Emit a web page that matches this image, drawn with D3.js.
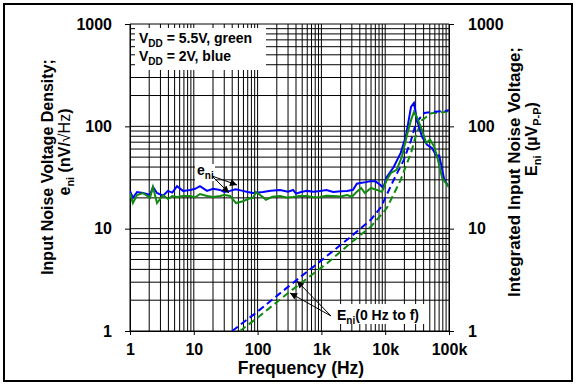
<!DOCTYPE html>
<html><head><meta charset="utf-8">
<script src="https://cdn.jsdelivr.net/npm/d3@7"></script>
<style>body{margin:0;background:#fff}svg{display:block}text{font-family:Arial,"Liberation Sans",sans-serif;font-weight:bold;fill:#000}</style>
</head><body>
<svg id="c" width="576" height="384"></svg>
<script>
// ---- data ----
const xTicks = [1, 10, 100, 1000, 10000, 100000];
const xTickLabels = ["1", "10", "100", "1k", "10k", "100k"];
const yTicks = [1, 10, 100, 1000];
const yTickLabels = ["1", "10", "100", "1000"];

const freqBlue = [1,1.11,1.29,1.6,2.06,2.29,2.65,3.29,3.94,4.6,5.46,6.77,8.73,10.5,12.5,16.1,20,25.8,30,37,45,59,70,85,121,160,225,300,360,400,480,595,750,955,1200,1530,2000,2530,3130,3600,4040,5000,5800,7000,8250,9300,10600,13600,17500,21000,25400,28200,31500,37800,45400,54500,63000,70300,84500,100000];
const eniBlue  = [23.4,20,22.8,22.3,21.3,25.6,22.3,21.0,23.4,22.5,26.0,23.4,23.9,24.5,26.0,23.4,24.5,23.9,22.8,23.4,24.2,23.4,22.8,22.3,22.8,23.5,23.9,23.0,23.9,22.0,22.8,23.4,23.0,23.4,23.8,22.8,23.2,23.4,24.0,27.5,28,28.5,29,29,27,25,32,40,55,79,155,169,115,79,66,61,52,52,30,25.5];

const freqGreen = [1,1.11,1.29,1.6,2.06,2.29,2.65,3.29,3.94,4.6,5.46,6.77,8.73,10.5,12.5,16.1,20,25.8,30,37,45.9,59,70,85,94,121,135,170,225,280,360,450,595,750,955,1200,1530,2000,2530,3000,3600,4200,4800,6000,7400,8900,10600,12300,15100,18200,21900,25400,28200,31500,37800,43700,50700,58700,65400,78500,100000];
const eniGreen  = [22.3,17.8,21.3,22.3,20,25.6,17.8,21.3,19.5,20.8,20.4,20.9,20.9,20.2,21.8,20.9,20.4,20.9,21.3,20.9,17.8,18.5,19.5,20,22.8,20.4,19.1,20.5,20.9,20.2,20.4,20.8,20.9,20.3,20.4,21.0,20.9,20.6,21.3,20.5,23,25,22.3,25,23.9,22.8,30,35,37.6,50,82,115,138,122,92,69,74,63,50,31,25.5];

const freqEBlue = [40,100,300,1000,3000,6000,8600,13600,19600,25400,30400,40700,60000,84500,100000];
const EniBlue   = [1.0,1.55,2.7,4.9,8.5,12.3,16.3,30,47,73,108,135,139,141,144];
const freqEGreen = [53,100,300,1230,3000,6000,10600,17500,25400,30400,37800,52600,84500,100000];
const EniGreen   = [1.0,1.35,2.35,4.6,7.4,10.5,15.9,30,55,82,115,134,138,141];

const blue = "#0000ff", green = "#108a10";

// ---- layout ----
const svg = d3.select("#c");
const L = 130, R = 449, T = 24, B = 331;
const x = d3.scaleLog().domain([1, 1e5]).range([L, R]);
const y = d3.scaleLog().domain([1, 1000]).range([B, T]);

// outer border
svg.append("rect").attr("x", 4).attr("y", 4).attr("width", 568).attr("height", 377)
  .attr("fill", "none").attr("stroke", "#000").attr("stroke-width", 2);

// grid
const gx = [], gy = [];
for (let d = 1; d < 1e5; d *= 10) for (let k = 1; k < 10; k++) gx.push(d * k);
gx.push(1e5);
for (let d = 1; d < 1000; d *= 10) for (let k = 1; k < 10; k++) gy.push(d * k);
gy.push(1000);
const grid = svg.append("g").attr("stroke", "#000").attr("stroke-width", 1);
grid.selectAll(".vx").data(gx).enter().append("line")
  .attr("x1", d => x(d)).attr("x2", d => x(d)).attr("y1", T).attr("y2", B);
grid.selectAll(".hy").data(gy).enter().append("line")
  .attr("y1", d => y(d)).attr("y2", d => y(d)).attr("x1", L).attr("x2", R);

// axes
const fmtX = d => xTickLabels[xTicks.indexOf(d)];
const fmtY = d => yTickLabels[yTicks.indexOf(d)];
const ax = svg.append("g").attr("transform", `translate(0,${B})`)
  .call(d3.axisBottom(x).tickValues(xTicks).tickFormat(fmtX).tickSize(4).tickPadding(9));
const ayl = svg.append("g").attr("transform", `translate(${L},0)`)
  .call(d3.axisLeft(y).tickValues(yTicks).tickFormat(fmtY).tickSize(5).tickPadding(13));
const ayr = svg.append("g").attr("transform", `translate(${R},0)`)
  .call(d3.axisRight(y).tickValues(yTicks).tickFormat(fmtY).tickSize(5).tickPadding(14));
[ax, ayl, ayr].forEach(g => {
  g.select(".domain").attr("stroke", "#000");
  g.selectAll(".tick line").attr("stroke", "#000");
  g.selectAll("text").attr("font-size", 16).attr("font-family", "Arial, 'Liberation Sans', sans-serif").attr("font-weight", "bold").attr("fill", "#000");
});
ax.selectAll(".tick text").attr("dy", "0.71em");

// clip
svg.append("clipPath").attr("id", "clip").append("rect").attr("x", L).attr("y", T).attr("width", R - L).attr("height", B - T);
const plot = svg.append("g").attr("clip-path", "url(#clip)");
const line = d3.line().x(d => x(d[0])).y(d => y(d[1]));
const zip = (a, b) => a.map((v, i) => [v, b[i]]);

plot.append("path").datum(zip(freqEGreen, EniGreen)).attr("d", line).attr("fill", "none")
  .attr("stroke", green).attr("stroke-width", 2).attr("stroke-dasharray", "7,4");
plot.append("path").datum(zip(freqEBlue, EniBlue)).attr("d", line).attr("fill", "none")
  .attr("stroke", blue).attr("stroke-width", 2).attr("stroke-dasharray", "7,4");
plot.append("path").datum(zip(freqBlue, eniBlue)).attr("d", line).attr("fill", "none")
  .attr("stroke", blue).attr("stroke-width", 2);
plot.append("path").datum(zip(freqGreen, eniGreen)).attr("d", line).attr("fill", "none")
  .attr("stroke", green).attr("stroke-width", 2);

// text with subscripts: parts [{t, sub}]
function subText(g, parts, size, attrs) {
  const t = g.append("text").attr("font-size", size);
  Object.entries(attrs).forEach(([k, v]) => t.attr(k, v));
  const sh = Math.round(size * 0.28);
  let down = false;
  parts.forEach(p => {
    const s = t.append("tspan").text(p.t);
    if (p.sub) {
      s.attr("font-size", Math.round(size * 0.68)).attr("dy", down ? 0 : sh);
      down = true;
    } else {
      if (down) s.attr("dy", -sh);
      down = false;
    }
    if (p.normal) s.attr("font-weight", "normal");
  });
  return t;
}

// legend box
svg.append("rect").attr("x", 135).attr("y", 28).attr("width", 131).attr("height", 42).attr("fill", "#fff");
subText(svg, [{t: "V"}, {t: "DD", sub: 1}, {t: " = 5.5V, green"}], 14, {x: 139, y: 43});
subText(svg, [{t: "V"}, {t: "DD", sub: 1}, {t: " = 2V, blue"}], 14, {x: 139, y: 61});

// arrow marker
const defs = svg.append("defs");
defs.append("marker").attr("id", "ah").attr("viewBox", "0 0 10 10").attr("refX", 10).attr("refY", 5)
  .attr("markerWidth", 9).attr("markerHeight", 7).attr("markerUnits", "userSpaceOnUse").attr("orient", "auto")
  .append("path").attr("d", "M0,0L10,5L0,10z").attr("fill", "#000");

// e_ni annotation
svg.append("rect").attr("x", 195).attr("y", 164).attr("width", 20).attr("height", 17).attr("fill", "#fff");
subText(svg, [{t: "e"}, {t: "ni", sub: 1}], 14, {x: 197, y: 175});
[[237, 185], [229, 193]].forEach(p => svg.append("line").attr("x1", 212).attr("y1", 176).attr("x2", p[0]).attr("y2", p[1])
  .attr("stroke", "#000").attr("stroke-width", 1).attr("marker-end", "url(#ah)"));

// E_ni annotation
svg.append("rect").attr("x", 333).attr("y", 304).attr("width", 92).attr("height", 20).attr("fill", "#fff");
subText(svg, [{t: "E"}, {t: "ni", sub: 1}, {t: "(0 Hz to f)"}], 14, {x: 337, y: 320});
[[297, 281], [290, 293]].forEach(p => svg.append("line").attr("x1", 331).attr("y1", 316).attr("x2", p[0]).attr("y2", p[1])
  .attr("stroke", "#000").attr("stroke-width", 1).attr("marker-end", "url(#ah)"));

// axis titles
svg.append("text").attr("x", 301).attr("y", 374).attr("text-anchor", "middle").attr("font-size", 17.5).text("Frequency (Hz)");

svg.append("text").attr("transform", "translate(53,167) rotate(-90)").attr("text-anchor", "middle")
  .attr("font-size", 16).text("Input Noise Voltage Density;");
subText(svg, [{t: "e"}, {t: "ni", sub: 1}, {t: " (nV/"}, {t: "\u221AHz", normal: 1}, {t: ")"}], 16,
  {transform: "translate(70,152) rotate(-90)", "text-anchor": "middle"});

svg.append("text").attr("transform", "translate(520,172) rotate(-90)").attr("text-anchor", "middle")
  .attr("font-size", 17).text("Integrated Input Noise Voltage;");
subText(svg, [{t: "E"}, {t: "ni", sub: 1}, {t: " (\u00B5V"}, {t: "P-P", sub: 1}, {t: ")"}], 16,
  {transform: "translate(537,139) rotate(-90)", "text-anchor": "middle"});
</script>
</body></html>
